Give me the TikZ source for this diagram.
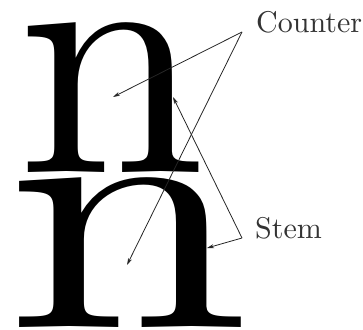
\documentclass[tikz,border=0pt]{standalone}
\usepackage{fontspec}
\usetikzlibrary{arrows.meta, positioning}
\newfontfamily\bigrm{lmroman10-regular.otf}
\tikzset{
  every picture/.style={x=1pt, y=-1pt},
  glyph/.style={anchor=base, inner sep=0pt, font=\bigrm\fontsize{339}{339}\selectfont},
  label/.style={anchor=base west, inner sep=0pt, font=\bigrm\fontsize{30}{36}\selectfont, text=black!80},
  arrow/.style={-{Stealth[length=7pt, width=4pt]}, draw=black!85, line width=0.8pt},
}
\begin{document}
\begin{tikzpicture}
  \useasboundingbox (0,0) rectangle (363,329);
  % the two letters
  \node[glyph] (ntop) at (111.5,172) {n};
  \node[glyph] (nbot) at (128,327) {\scalebox{1.3}[1]{n}};
  % labels
  \node[label] (counter) at (256,33) {Counter};
  \node[label] (stem) at (255,238) {Stem};
  \coordinate (cv) at (242,32);
  \coordinate (sv) at (242,238);
  \coordinate (ctop) at (113,97);
  \coordinate (cbot) at (127,265);
  \coordinate (stop) at (173,97);
  \coordinate (sbot) at (207,248);
  \draw[arrow] (cv) -- (ctop);
  \draw[arrow] (cv) -- (cbot);
  \draw[arrow] (sv) -- (stop);
  \draw[arrow] (sv) -- (sbot);
\end{tikzpicture}
\end{document}
